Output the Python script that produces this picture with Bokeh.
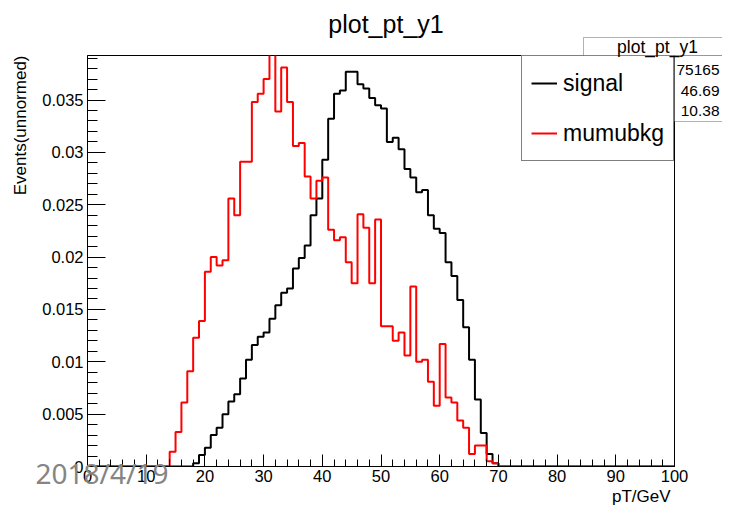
from bokeh.plotting import figure
from bokeh.layouts import column
from bokeh.models import (Range1d, SingleIntervalTicker, CustomJSTickFormatter, Legend,
                          LegendItem, Title, Label, BoxAnnotation, Plot)
from bokeh.embed import file_html
from bokeh.resources import INLINE

# ---------------- data ----------------
bin_edges = list(range(0, 101))  # 1 GeV bins, 0..100

signal = [0.0] * 18 + [
    0.0003, 0.0011, 0.0018, 0.0030, 0.0037, 0.0050, 0.0062, 0.0069, 0.0084, 0.0102,   # 18-27
    0.0116, 0.0124, 0.0128, 0.0141, 0.0154, 0.0166, 0.0170, 0.0189, 0.0199, 0.0211,   # 28-37
    0.0240, 0.0256, 0.0293, 0.0332, 0.0356, 0.0359, 0.0377, 0.0377, 0.0365, 0.0361,   # 38-47
    0.0352, 0.0345, 0.0342, 0.0310, 0.0314, 0.0303, 0.0284, 0.0276, 0.0262, 0.0264,   # 48-57
    0.0240, 0.0227, 0.0223, 0.0195, 0.0182, 0.0159, 0.0133, 0.0102, 0.0064, 0.0032,   # 58-67
    0.0012, 0.0003,                                                                   # 68-69
] + [0.0] * 30

mumubkg = [0.0] * 14 + [
    0.0014, 0.0033, 0.0061, 0.0091, 0.0123, 0.0139,                                   # 14-19
    0.0186, 0.0200, 0.0192, 0.0197, 0.0256, 0.0240, 0.0291, 0.0291, 0.0348, 0.0356,   # 20-29
    0.0370, 0.0415, 0.0339, 0.0381, 0.0348, 0.0306, 0.0309, 0.0277, 0.0256, 0.0273,   # 30-39
    0.0276, 0.0226, 0.0216, 0.0219, 0.0195, 0.0175, 0.0241, 0.0228, 0.0175, 0.0236,   # 40-49
    0.0134, 0.0134, 0.0120, 0.0128, 0.0106, 0.0172, 0.0100, 0.0102, 0.0081, 0.0058,   # 50-59
    0.0117, 0.0066, 0.0061, 0.0044, 0.0037, 0.0012, 0.0020, 0.0020, 0.0005, 0.0003,   # 60-69
] + [0.0] * 30

series_names = ["signal", "mumubkg"]
series_colors = ["#000000", "#ff0000"]

chart_title = "plot_pt_y1"
x_label = "pT/GeV"
y_label = "Events(unnormed)"
stats_title = "plot_pt_y1"
stats_values = ["75165", "46.69", "10.38"]
watermark = "2018/4/19"

FONT = "Liberation Sans"
W, H = 722, 505
FL, FR, FT, FB = 87, 48, 55, 38   # borders around the plotting frame
FW = W - FL - FR                   # frame width

# ---------------- main figure ----------------
p = figure(width=W, height=H, x_range=Range1d(0, 100), y_range=Range1d(0, 0.03925),
           output_backend="svg", toolbar_location=None,
           min_border_left=FL, min_border_right=FR, min_border_top=FT, min_border_bottom=FB)
p.background_fill_color = "white"
p.border_fill_color = "white"
p.outline_line_color = "black"
p.outline_line_width = 1
p.xgrid.visible = False
p.ygrid.visible = False

for ax in (p.xaxis[0], p.yaxis[0]):
    ax.axis_line_color = "black"
    ax.axis_line_width = 1
    ax.major_tick_line_color = "black"
    ax.minor_tick_line_color = "black"
    ax.major_tick_out = 0
    ax.minor_tick_out = 0
    ax.major_label_text_font = FONT
    ax.major_label_text_font_size = "16.5px"
    ax.major_label_text_color = "black"

p.xaxis[0].ticker = SingleIntervalTicker(interval=10, num_minor_ticks=5)
p.xaxis[0].major_tick_in = 12
p.xaxis[0].minor_tick_in = 7
p.xaxis[0].major_label_standoff = 3

p.yaxis[0].ticker = SingleIntervalTicker(interval=0.005, num_minor_ticks=5)
p.yaxis[0].formatter = CustomJSTickFormatter(code="return parseFloat(tick.toFixed(4)).toString();")
p.yaxis[0].major_tick_in = 18
p.yaxis[0].minor_tick_in = 10
p.yaxis[0].major_label_standoff = 4

xt = Title(text=x_label, align="right", text_font=FONT, text_font_style="normal",
           text_font_size="17px", text_color="black", standoff=0, offset=4)
p.add_layout(xt, "below")
yt = Title(text=y_label, align="right", text_font=FONT, text_font_style="normal",
           text_font_size="17px", text_color="black", standoff=16, vertical_align="top")
p.add_layout(yt, "left")

r_sig = p.step(x=bin_edges, y=signal + [signal[-1]], mode="after",
               line_color=series_colors[0], line_width=2)
r_bkg = p.step(x=bin_edges, y=mumubkg + [mumubkg[-1]], mode="after",
               line_color=series_colors[1], line_width=2)

legend = Legend(items=[LegendItem(label=series_names[0], renderers=[r_sig]),
                       LegendItem(label=series_names[1], renderers=[r_bkg])],
                location="top_right", margin=0, padding=9, spacing=14,
                glyph_width=26, glyph_height=36, label_height=36, label_standoff=6,
                label_text_font=FONT, label_text_font_size="23px", label_text_color="black",
                border_line_color="black", border_line_width=1,
                background_fill_color="white", background_fill_alpha=1.0)
p.add_layout(legend)


# ---------------- transparent overlays (pixel coordinates) for items outside the frame ----------------
def make_overlay(x0, x1, left_px, width):
    o = figure(width=width, height=H, x_range=Range1d(x0, x1), y_range=Range1d(H, 0),
               output_backend="svg", toolbar_location=None, x_axis_type=None, y_axis_type=None,
               min_border_left=0, min_border_right=0, min_border_top=0, min_border_bottom=0)
    o.outline_line_color = None
    o.background_fill_color = None
    o.border_fill_color = None
    o.styles = {"position": "absolute", "left": f"{left_px}px", "top": "0px"}
    return o


if "frame_align" in Plot.properties():
    ovL = make_overlay(0, W, 0, W)
    ovL.frame_align = False
    ovR = ovL
    overlays = [ovL]
else:
    # the column gives every plot the same borders and frame width as the main figure
    ovL = make_overlay(0, FW, -FL, W)
    ovR = make_overlay(W - FW, W, W - FW - FL, W)
    overlays = [ovL, ovR]

fr_right = W - FR
# chart title
ovL.add_layout(Label(x=(FL + fr_right) / 2 + 5, y=23, text=chart_title, text_align="center",
                     text_baseline="middle", text_font=FONT, text_font_size="25px",
                     text_color="black"))
# date stamp
ovL.add_layout(Label(x=35, y=472, text=watermark, text_font="Noto Sans", text_font_size="28px",
                     text_color="#858585", text_baseline="middle"))
# stats box: title row and value column (the rest is hidden behind the legend)
ovR.add_layout(BoxAnnotation(left=fr_right - 91, right=W + 10, top=37, bottom=FT,
                             fill_color="white", fill_alpha=1.0, line_color="black", line_width=1))
ovR.add_layout(BoxAnnotation(left=fr_right, right=W + 10, top=FT, bottom=121,
                             fill_color="white", fill_alpha=1.0, line_color="black", line_width=1))
ovR.add_layout(Label(x=fr_right - 17, y=46.5, text=stats_title, text_align="center",
                     text_baseline="middle", text_font=FONT, text_font_size="17.5px",
                     text_color="black"))
for val, yy in zip(stats_values, [69.5, 90.5, 110]):
    ovR.add_layout(Label(x=W - 3, y=yy, text=val, text_align="right", text_baseline="middle",
                         text_font=FONT, text_font_size="15.5px", text_color="black"))

layout = column(p, *overlays)
open("out.html", "w").write(file_html(layout, INLINE))
